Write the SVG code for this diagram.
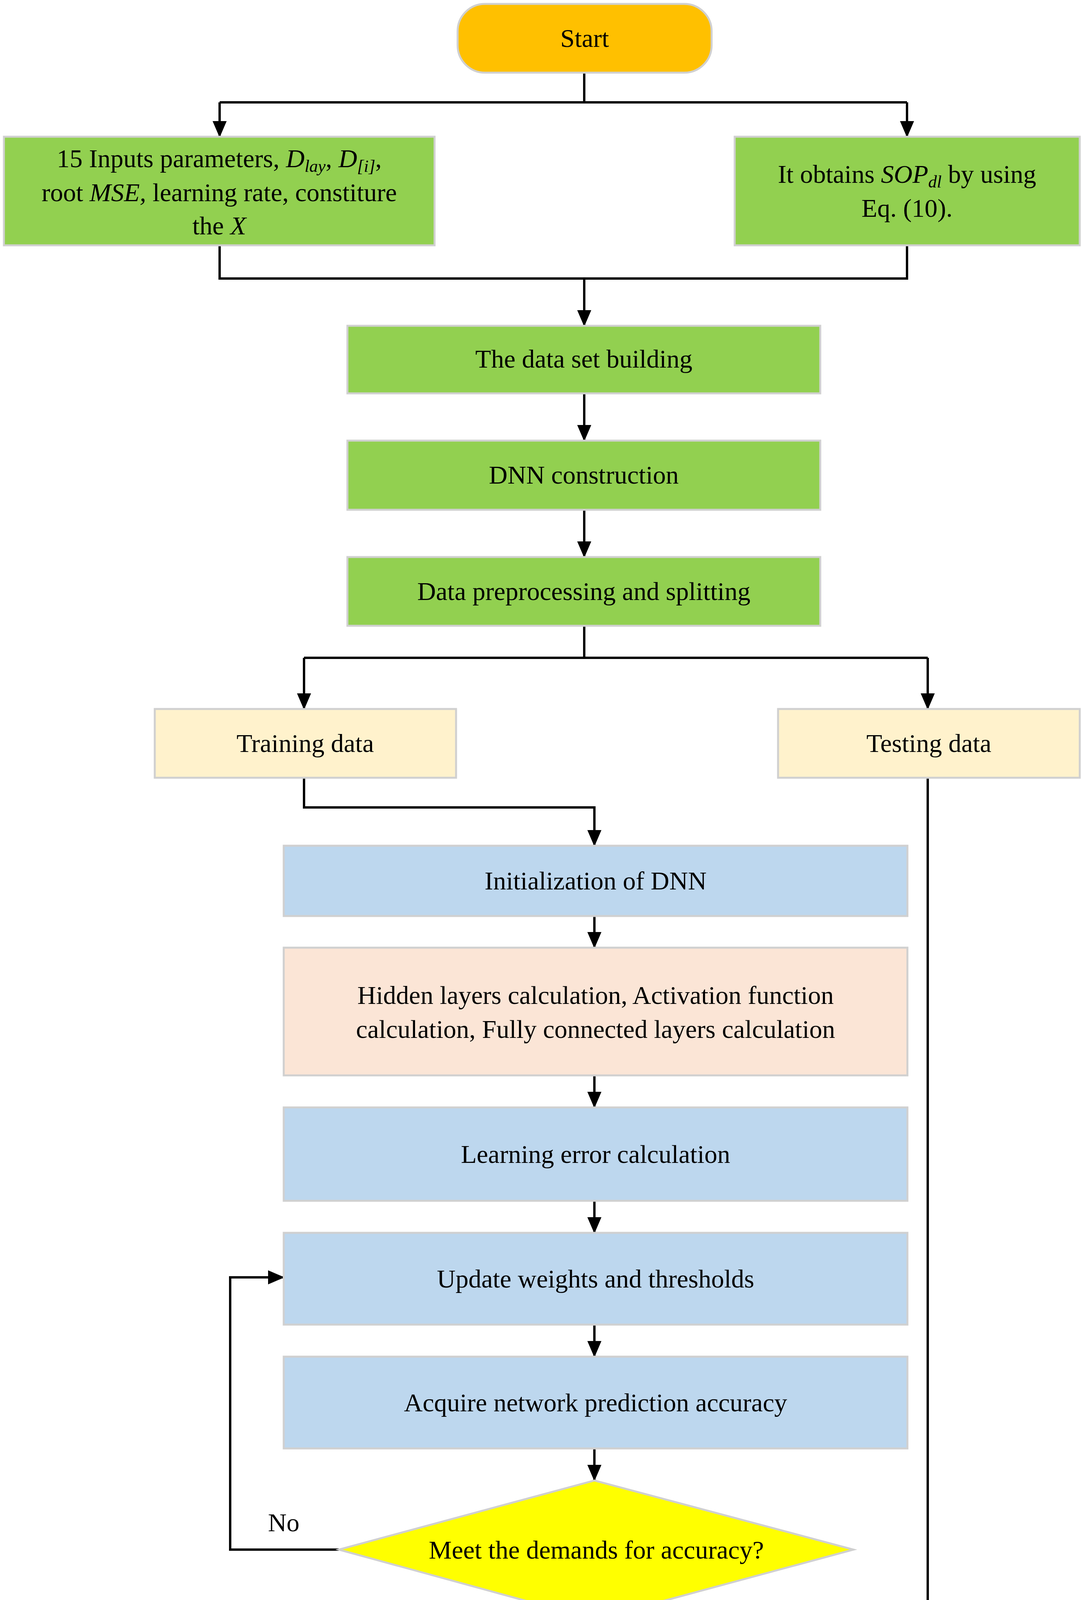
<svg xmlns="http://www.w3.org/2000/svg" width="2779" height="5121" viewBox="0 0 2779 5121">
<style>
.t{font-family:"Liberation Serif","Times New Roman",serif;font-size:66px;fill:#000;text-anchor:middle}
.b{stroke:#d0d0d0;stroke-width:5}
.c{fill:none;stroke:#000;stroke-width:6}
</style>
<defs>
<marker id="a" markerWidth="10" markerHeight="10" refX="9" refY="5" orient="auto" markerUnits="userSpaceOnUse" viewBox="0 0 10 10">
<path d="M0,0 L10,5 L0,10 Z" fill="#000"/>
</marker>
<marker id="m" markerWidth="44" markerHeight="44" refX="40" refY="22" orient="auto" markerUnits="userSpaceOnUse" viewBox="0 0 44 44">
<path d="M0,4 L42,22 L0,40 Z" fill="#000"/>
</marker>
</defs>
<rect width="2779" height="5121" fill="#fff"/>
<g id="connectors" class="c">
<path d="M1495,186 V262 M562,262 H2321"/>
<path d="M562,262 V350" marker-end="url(#m)"/>
<path d="M2321,262 V350" marker-end="url(#m)"/>
<path d="M562,628 V713 H2321 V628"/>
<path d="M1495,713 V834" marker-end="url(#m)"/>
<path d="M1495,1007 V1128" marker-end="url(#m)"/>
<path d="M1495,1305 V1426" marker-end="url(#m)"/>
<path d="M1495,1602 V1684 M778,1684 H2374"/>
<path d="M778,1684 V1815" marker-end="url(#m)"/>
<path d="M2374,1684 V1815" marker-end="url(#m)"/>
<path d="M778,1991 V2067 H1521 V2165" marker-end="url(#m)"/>
<path d="M2374,1991 V4663 H1700" marker-end="url(#m)"/>
<path d="M1521,2345 V2426" marker-end="url(#m)"/>
<path d="M1521,2753 V2835" marker-end="url(#m)"/>
<path d="M1521,3074 V3156" marker-end="url(#m)"/>
<path d="M1521,3391 V3473" marker-end="url(#m)"/>
<path d="M1521,3708 V3790" marker-end="url(#m)"/>
<path d="M867,3967 H589 V3270 H726" marker-end="url(#m)"/>
<path d="M1521,4146 V4228" marker-end="url(#m)"/>
<path d="M1521,4460 V4542" marker-end="url(#m)"/>
<path d="M1521,4784 V4866" marker-end="url(#m)"/>
</g>
<g id="start"><rect x="1171" y="10" width="650" height="176" rx="70" fill="#ffc000" class="b"/><text class="t" x="1496" y="120">Start</text></g>
<g id="inputs"><rect x="10" y="350" width="1102" height="278" fill="#92d050" class="b"/>
<text class="t" x="561" y="428">15 Inputs parameters, <tspan font-style="italic">D</tspan><tspan font-style="italic" font-size="44" dy="12">lay</tspan><tspan dy="-12">, </tspan><tspan font-style="italic">D</tspan><tspan font-style="italic" font-size="44" dy="12">[i]</tspan><tspan dy="-12">,</tspan></text>
<text class="t" x="561" y="515">root <tspan font-style="italic">MSE,</tspan>  learning rate, constiture</text>
<text class="t" x="561" y="600">the <tspan font-style="italic">X</tspan></text></g>
<g id="sop"><rect x="1880" y="350" width="883" height="278" fill="#92d050" class="b"/>
<text class="t" x="2321" y="468">It obtains <tspan font-style="italic">SOP</tspan><tspan font-style="italic" font-size="44" dy="12">dl</tspan><tspan dy="-12"> by using</tspan></text>
<text class="t" x="2321" y="555">Eq. (10).</text></g>
<g id="dataset"><rect x="889" y="834" width="1210" height="173" fill="#92d050" class="b"/><text class="t" x="1494" y="941">The data set building</text></g>
<g id="dnn"><rect x="889" y="1128" width="1210" height="177" fill="#92d050" class="b"/><text class="t" x="1494" y="1238">DNN construction</text></g>
<g id="prep"><rect x="889" y="1426" width="1210" height="176" fill="#92d050" class="b"/><text class="t" x="1494" y="1536">Data preprocessing and splitting</text></g>
<g id="train"><rect x="396" y="1815" width="771" height="176" fill="#fff2cc" class="b"/><text class="t" x="781" y="1925">Training data</text></g>
<g id="test"><rect x="1991" y="1815" width="772" height="176" fill="#fff2cc" class="b"/><text class="t" x="2377" y="1925">Testing data</text></g>
<g id="init"><rect x="726" y="2165" width="1596" height="180" fill="#bdd7ee" class="b"/><text class="t" x="1524" y="2277">Initialization of DNN</text></g>
<g id="hidden"><rect x="726" y="2426" width="1596" height="327" fill="#fbe5d6" class="b"/>
<text class="t" x="1524" y="2570">Hidden layers calculation,  Activation function</text>
<text class="t" x="1524" y="2657">calculation, Fully connected layers calculation</text></g>
<g id="lerr"><rect x="726" y="2835" width="1596" height="239" fill="#bdd7ee" class="b"/><text class="t" x="1524" y="2977">Learning error calculation</text></g>
<g id="update"><rect x="726" y="3156" width="1596" height="235" fill="#bdd7ee" class="b"/><text class="t" x="1524" y="3296">Update weights and thresholds</text></g>
<g id="acquire"><rect x="726" y="3473" width="1596" height="235" fill="#bdd7ee" class="b"/><text class="t" x="1524" y="3613">Acquire network prediction accuracy</text></g>
<g id="meet"><polygon points="1521,3790 2184,3967 1521,4146 867,3967" fill="#ffff00" class="b"/><text class="t" x="1526" y="3990">Meet the demands for accuracy?</text>
<text class="t" x="726" y="3920">No</text><text class="t" x="1750" y="4182">Yes</text></g>
<g id="best"><rect x="726" y="4228" width="1596" height="232" fill="#ff3300" class="b"/><text class="t" x="1524" y="4366">The best DNN model establishment</text></g>
<g id="pred"><polygon points="1347,4663 1380,4542 1668,4542 1700,4663 1668,4784 1380,4784" fill="#ff7f7f" class="b"/><text class="t" x="1524" y="4686">Prediction</text></g>
<g id="result"><rect x="811" y="4866" width="1426" height="235" rx="117" fill="#ffe699" class="b"/><text class="t" x="1524" y="5006">Obtain the optimal SOP performance result</text></g>
</svg>
